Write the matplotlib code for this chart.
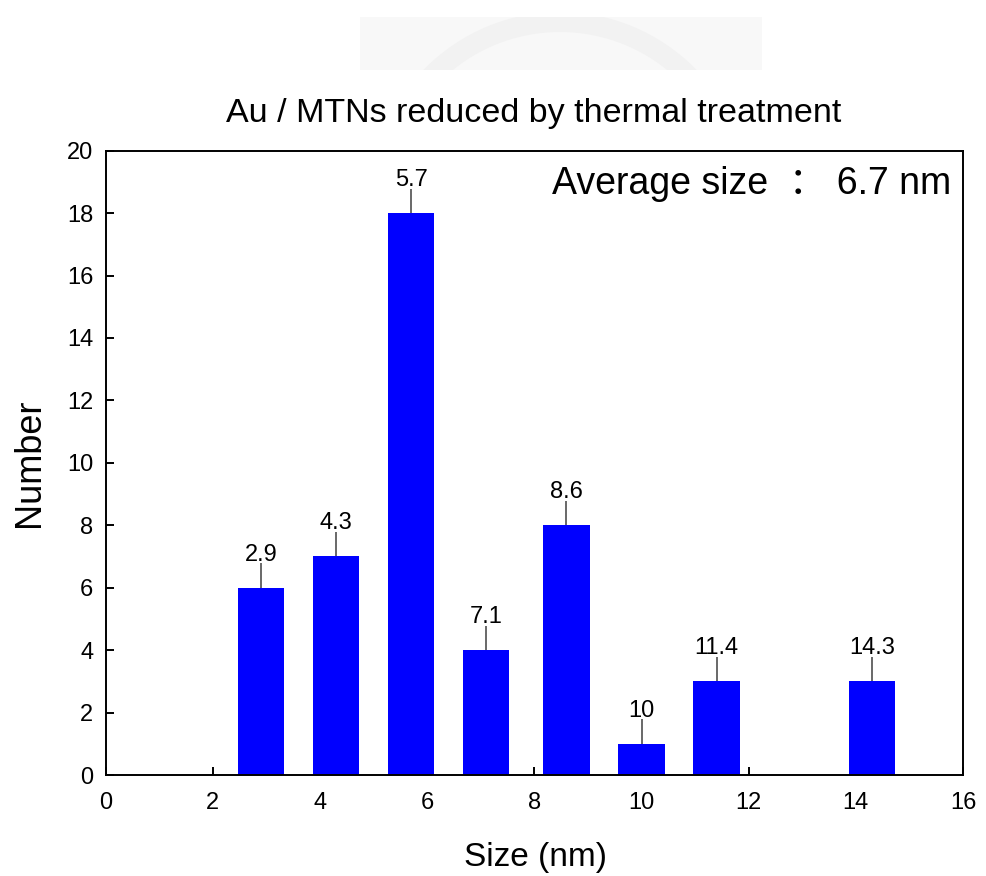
import matplotlib
matplotlib.use("Agg")
import matplotlib.pyplot as plt
from matplotlib.patches import Rectangle, Wedge

# Particle size histogram data
sizes = [2.9, 4.3, 5.7, 7.1, 8.6, 10, 11.4, 14.3]
counts = [6, 7, 18, 4, 8, 1, 3, 3]
size_labels = ["2.9", "4.3", "5.7", "7.1", "8.6", "10", "11.4", "14.3"]
x_ticks = [0, 2, 4, 6, 8, 10, 12, 14, 16]
y_ticks = [0, 2, 4, 6, 8, 10, 12, 14, 16, 18, 20]

title = "Au / MTNs reduced by thermal treatment"
avg_text = "Average size  \uff1a 6.7 nm"

plt.rcParams["font.family"] = ["Liberation Sans", "Noto Sans CJK SC", "DejaVu Sans"]

W, H = 986, 876
fig = plt.figure(figsize=(W / 100, H / 100), dpi=100)


def fx(px):
    return px / W


def fy(py):
    return (H - py) / H


# faint seal watermark at the top
wm = fig.add_axes([fx(360), fy(70), fx(762) - fx(360), fy(17) - fy(70)])
wm.set_xlim(360, 762)
wm.set_ylim(70, 17)
wm.axis("off")
bg = Rectangle((360, 17), 402, 53, facecolor="#f8f8f8", edgecolor="none")
wm.add_patch(bg)
ring = Wedge((560, 202), 190, 0, 360, width=20, facecolor="#f2f2f2", edgecolor="none")
ring.set_clip_path(bg)
wm.add_patch(ring)

# main histogram axes
ax = fig.add_axes([fx(105.7), fy(775), fx(963) - fx(105.7), fy(150.7) - fy(775)])
ax.bar(sizes, counts, width=0.86, color="#0000ff", edgecolor="none", zorder=2)
tops = [c + 0.78 for c in counts]
ax.vlines(sizes, counts, tops, color="#404040", linewidth=1.1, zorder=3)
for s, c, lab in zip(sizes, counts, size_labels):
    ax.text(s, c + 0.87, lab, ha="center", va="baseline", fontsize=17, color="black")

ax.set_xlim(0, 16)
ax.set_ylim(0, 20)
ax.set_xticks(x_ticks)
ax.set_yticks(y_ticks)
ax.set_axisbelow(True)
ax.tick_params(axis="both", direction="in", length=6, width=1.4, labelsize=17,
               top=False, right=False)
ax.tick_params(axis="x", pad=12)
ax.tick_params(axis="y", pad=9)
for sp in ax.spines.values():
    sp.set_linewidth(1.4)
    sp.set_zorder(4)

fig.text(fx(951), fy(194), avg_text, ha="right", va="baseline", fontsize=27)

fig.text(fx(534), fy(122), title, ha="center", va="baseline", fontsize=24.5)
fig.text(fx(536), fy(866), "Size (nm)", ha="center", va="baseline", fontsize=24)
fig.text(fx(29), fy(463), "Number", ha="center", va="center", rotation=90, fontsize=26)

fig.savefig("out.png", dpi=100)
